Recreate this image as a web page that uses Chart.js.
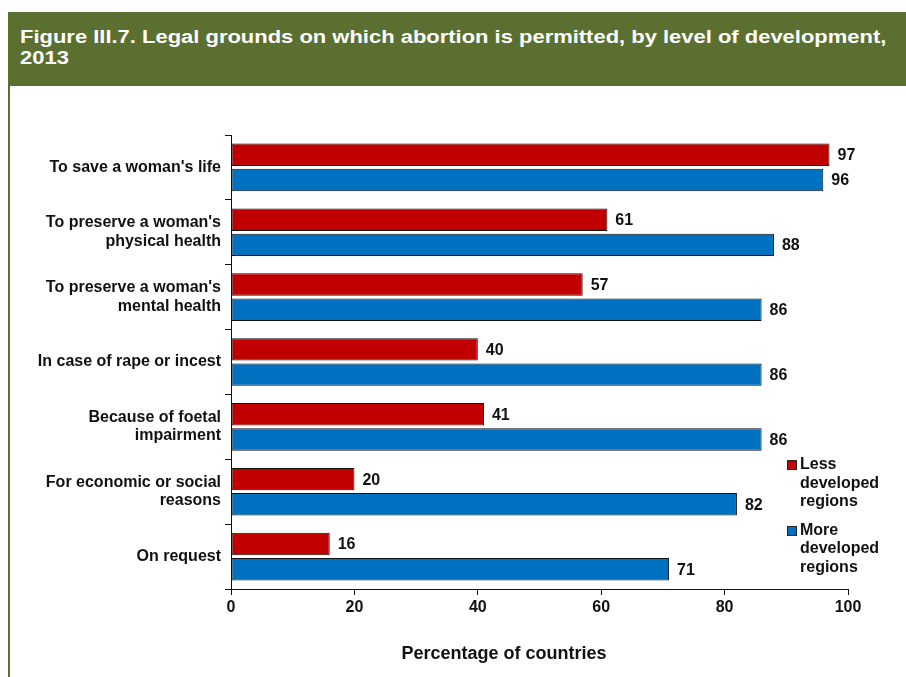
<!DOCTYPE html>
<html>
<head>
<meta charset="utf-8">
<script src="https://cdn.jsdelivr.net/npm/chart.js@4.4.0/dist/chart.umd.min.js"></script>
<style>
  body { margin: 0; background: #fff; font-family: "Liberation Sans", Arial, sans-serif; }
  #page { position: relative; width: 906px; height: 677px; overflow: hidden; }
  #header {
    position: absolute; left: 8px; top: 12px; width: 898px; height: 74px;
    background: #5b7030;
  }
  #header .txt {
    position: absolute; left: 12px; top: 15px; color: #fff; font-weight: bold;
    font-size: 18px; line-height: 21px; white-space: nowrap;
    transform: scaleX(1.22); transform-origin: left top;
  }
  #rule { position: absolute; left: 8px; top: 86px; width: 2px; height: 591px; background: #5b7030; }
  #wrap { position: absolute; left: 0; top: 0; width: 906px; height: 677px; }
  #legend { position: absolute; left: 787px; top: 455px; font-weight: bold; font-size: 16px; line-height: 18.5px; color: #111; }
  #legend .item { position: relative; padding-left: 13px; margin-bottom: 10px; }
  #legend .sw { position: absolute; left: 0; top: 5px; width: 8px; height: 8px; border: 1px solid #222; }
</style>
</head>
<body>
<div id="page">
  <div id="header"><div class="txt">Figure III.7. Legal grounds on which abortion is permitted, by level of development,<br>2013</div></div>
  <div id="rule"></div>
  <div id="wrap"><canvas id="chart" width="906" height="677"></canvas></div>
  <div id="legend">
    <div class="item"><span class="sw" style="background:#c00000"></span>Less<br>developed<br>regions</div>
    <div class="item"><span class="sw" style="background:#0070c0"></span>More<br>developed<br>regions</div>
  </div>
</div>
<script>
var categories = [
  "To save a woman's life",
  ["To preserve a woman's", "physical health"],
  ["To preserve a woman's", "mental health"],
  "In case of rape or incest",
  ["Because of foetal", "impairment"],
  ["For economic or social", "reasons"],
  "On request"
];
var lessDeveloped = [97, 61, 57, 40, 41, 20, 16];
var moreDeveloped = [96, 88, 86, 86, 86, 82, 71];
var seriesNames = ['Less developed regions', 'More developed regions'];
var xTicks = [0, 20, 40, 60, 80, 100];

var FONT = '"Liberation Sans", Arial, sans-serif';

var valueLabels = {
  id: 'valueLabels',
  afterDatasetsDraw: function(chart) {
    var ctx = chart.ctx;
    ctx.save();
    ctx.font = 'bold 16px ' + FONT;
    ctx.fillStyle = '#111';
    ctx.textBaseline = 'middle';
    ctx.textAlign = 'left';
    chart.data.datasets.forEach(function(ds, i) {
      chart.getDatasetMeta(i).data.forEach(function(bar, j) {
        ctx.fillText(ds.data[j], bar.x + 8, bar.y + 1);
      });
    });
    // axis title
    ctx.font = 'bold 18px ' + FONT;
    ctx.textAlign = 'center';
    ctx.fillText('Percentage of countries', 504, 654);
    ctx.restore();
  }
};

new Chart(document.getElementById('chart'), {
  type: 'bar',
  data: {
    labels: categories,
    datasets: [{
      label: seriesNames[0],
      data: lessDeveloped,
      backgroundColor: '#c00000',
      borderColor: '#111',
      borderWidth: 1,
      borderSkipped: false,
      categoryPercentage: 0.777,
      barPercentage: 0.89
    }, {
      label: seriesNames[1],
      data: moreDeveloped,
      backgroundColor: '#0070c0',
      borderColor: '#111',
      borderWidth: 1,
      borderSkipped: false,
      categoryPercentage: 0.777,
      barPercentage: 0.89
    }]
  },
  options: {
    indexAxis: 'y',
    responsive: false,
    animation: false,
    layout: { padding: { left: 0, right: 58, top: 135, bottom: 0 } },
    scales: {
      x: {
        min: 0,
        max: 100,
        afterBuildTicks: function(axis) { axis.ticks = xTicks.map(function(v) { return { value: v }; }); },
        border: { color: '#111', width: 1 },
        grid: { drawOnChartArea: false, drawTicks: true, tickLength: 6, color: '#111' },
        ticks: {
          color: '#111',
          padding: 3,
          font: { family: FONT, size: 16, weight: 'bold' }
        },
        afterFit: function(axis) { axis.height = 88; }
      },
      y: {
        border: { color: '#111', width: 1 },
        grid: { drawOnChartArea: false, drawTicks: true, tickLength: 6, color: '#111', offset: true },
        ticks: {
          color: '#111',
          padding: 4,
          font: { family: FONT, size: 16, weight: 'bold', lineHeight: 1.15 }
        },
        afterFit: function(axis) { axis.width = 231; }
      }
    },
    plugins: {
      legend: { display: false },
      tooltip: { enabled: false }
    }
  },
  plugins: [valueLabels]
});
</script>
</body>
</html>
